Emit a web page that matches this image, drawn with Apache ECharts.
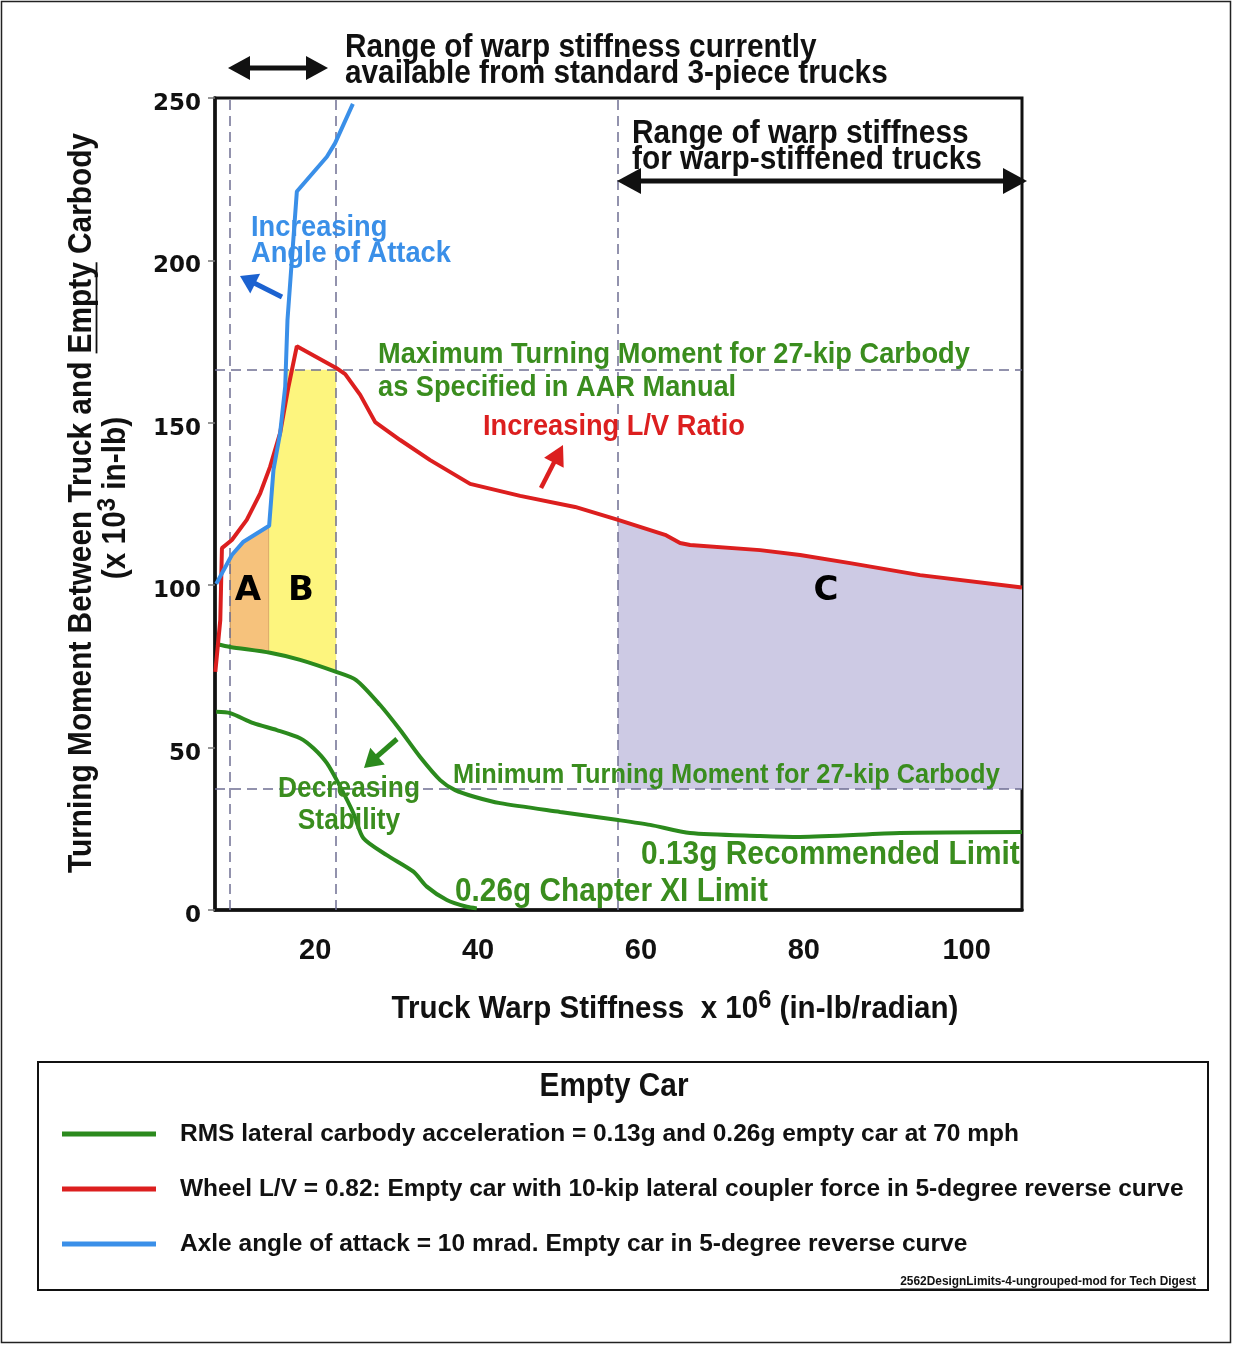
<!DOCTYPE html>
<html><head><meta charset="utf-8">
<script src="https://cdn.jsdelivr.net/npm/echarts@6/dist/echarts.min.js"></script>
<style>html,body{margin:0;padding:0;background:#fff}#c{width:1233px;height:1345px}</style>
</head><body><div id="c"></div>
<script>
// ---------------- data ----------------
const xTickLabels = [20, 40, 60, 80, 100];
const yTickLabels = [0, 50, 100, 150, 200, 250];

// Axle angle of attack = 10 mrad (blue)
const angleOfAttack = [[7.85,100.4],[9.77,109.3],[11.2,113.4],[14.35,118.3],[14.88,135.5],[15.7,146.9],[16.32,161.1],[16.6,181.6],[17.75,221.2],[21.44,231.9],[22.45,236.1],[24.63,248.2]];
// Wheel L/V = 0.82 (red)
const wheelLV = [[7.74,73.3],[8.35,89.3],[8.55,111.4],[9.77,113.9],[11.6,120.1],[13.25,128.3],[14.47,136.5],[15.7,146.9],[16.72,161.1],[17.75,173.6],[22.58,166.9],[23.69,165.0],[25.53,158.6],[27.37,150.2],[30.44,144.7],[34.12,138.5],[39.03,131.2],[45.17,127.5],[51.92,124.1],[57.2,120.1],[62.97,115.5],[64.81,113.0],[66.04,112.4],[74.64,110.8],[79.55,109.3],[85.69,106.8],[94.28,103.1],[106.8,99.3]];
// RMS lateral carbody acceleration 0.13g (green, upper)
const accel013 = [[7.85,81.9],[9.56,81.0],[14.47,79.2],[18.15,77.0],[22.58,73.3],[25.03,70.8],[27.98,63.1],[30.44,55.4],[32.89,47.1],[35.35,40.0],[37.19,36.9],[39.64,34.8],[42.71,32.9],[50.08,30.2],[57.2,27.7],[61.13,26.2],[66.04,23.7],[74.64,22.8],[79.55,22.5],[91.83,23.7],[106.8,24.0]];
// RMS lateral carbody acceleration 0.26g (green, lower)
const accel026 = [[7.85,61.0],[9.56,60.6],[12.42,57.5],[15.3,55.4],[18.15,52.9],[19.8,49.8],[21.44,45.2],[23.07,38.0],[24.7,29.8],[25.93,22.1],[28.8,16.9],[32.07,11.8],[33.71,7.2],[36.17,3.1],[38.62,1.0],[39.85,0.5]];

// reference (dashed) lines
const refX = [9.56, 22.58, 57.2];      // vertical dashed lines
const refY = [166.3, 37.25];           // max / min turning moment
// shaded zones (x ranges)
const zoneA = [9.56, 14.35];
const zoneB = [14.35, 22.58];
const zoneC = [57.2, 106.8];

const names = [
  'RMS lateral carbody acceleration = 0.13g and 0.26g empty car at 70 mph',
  'Wheel L/V = 0.82: Empty car with 10-kip lateral coupler force in 5-degree reverse curve',
  'Axle angle of attack = 10 mrad. Empty car in 5-degree reverse curve'
];

// ---------------- helpers ----------------
const SANS = "'Liberation Sans',Arial,Helvetica,sans-serif";
const HEAVY = "'DejaVu Sans',Arial,sans-serif";
const SX = 0.92; // slight horizontal condensation to mimic the original face
const mctx = document.createElement('canvas').getContext('2d');
function fitN(text, w){ mctx.font = 'bold 100px ' + SANS; return 100 * w / (mctx.measureText(text).width * SX); }
function fitU(text, w){ mctx.font = 'bold 100px ' + SANS; return 100 * w / mctx.measureText(text).width; }
function twN(text, size){ mctx.font = 'bold ' + size + 'px ' + SANS; return mctx.measureText(text).width * SX; }
function twU(text, size){ mctx.font = 'bold ' + size + 'px ' + SANS; return mctx.measureText(text).width; }

function interpAt(c, x){
  for (let i = 0; i < c.length - 1; i++) {
    const a = c[i], b = c[i+1];
    if (x >= a[0] && x <= b[0]) return a[1] + (b[1]-a[1]) * (x-a[0]) / (b[0]-a[0]);
  }
  return x < c[0][0] ? c[0][1] : c[c.length-1][1];
}
function clip(c, a, b){
  const out = [[a, interpAt(c, a)]];
  c.forEach(p => { if (p[0] > a && p[0] < b) out.push(p); });
  out.push([b, interpAt(c, b)]);
  return out;
}
function capAt(pts, cap){
  const out = [];
  for (let i = 0; i < pts.length; i++) {
    const p = pts[i];
    if (i > 0) {
      const q = pts[i-1];
      if ((q[1] - cap) * (p[1] - cap) < 0) {
        const t = (cap - q[1]) / (p[1] - q[1]);
        out.push([q[0] + t*(p[0]-q[0]), cap]);
      }
    }
    out.push([p[0], Math.min(p[1], cap)]);
  }
  return out;
}
const regionA = clip(angleOfAttack, zoneA[0], zoneA[1]).concat(clip(accel013, zoneA[0], zoneA[1]).reverse());
const regionB = capAt(clip(angleOfAttack, zoneB[0], zoneB[1]), refY[0]).concat(clip(accel013, zoneB[0], zoneB[1]).reverse());
const regionC = clip(wheelLV, zoneC[0], zoneC[1]).concat([[zoneC[1], refY[1]], [zoneC[0], refY[1]]]);
const regions = [regionA, regionB, regionC];
const regionFill = ['#f6c27c', '#fdf57e', '#cdcae4'];
const regionStroke = ['#b98a52', null, null];

// colours
const GREEN = '#2b8a1d', GREEN_T = '#3a8d1e', RED = '#dc1f1f', BLUE = '#3a8fe8', BLUE_A = '#1c62d0';

function txt(x, y, text, size, color, extra, noScale){
  const st = Object.assign({text: text, font: 'bold ' + size + 'px ' + SANS, fill: color,
    textAlign: 'left', textVerticalAlign: 'middle', align: 'left', verticalAlign: 'middle'}, extra || {});
  const el = {type: 'text', x: x, y: y, z: 100, silent: true, style: st};
  if (!noScale) el.scaleX = SX;
  return el;
}
function arrow(x1, y1, x2, y2, color, w, hl, hw, both){
  const dx = x2-x1, dy = y2-y1, L = Math.hypot(dx, dy), ux = dx/L, uy = dy/L, px = -uy, py = ux;
  const sx = both ? x1 + ux*hl*0.8 : x1, sy = both ? y1 + uy*hl*0.8 : y1;
  const ex = x2 - ux*hl*0.8, ey = y2 - uy*hl*0.8;
  const head = (tx, ty, vx, vy) => ({type: 'polygon', z: 100, silent: true,
    shape: {points: [[tx, ty], [tx - vx*hl + px*hw, ty - vy*hl + py*hw], [tx - vx*hl - px*hw, ty - vy*hl - py*hw]]},
    style: {fill: color}});
  const els = [{type: 'line', z: 100, silent: true, shape: {x1: sx, y1: sy, x2: ex, y2: ey}, style: {stroke: color, lineWidth: w}}];
  els.push(head(x2, y2, ux, uy));
  if (both) els.push(head(x1, y1, -ux, -uy));
  return els;
}

// ---------------- annotation sizes ----------------
const sTop = fitN('available from standard 3-piece trucks', 543);
const sRange = fitN('for warp-stiffened trucks', 350);
const sBlue = fitN('Angle of Attack', 200);
const sMax = fitN('Maximum Turning Moment for 27-kip Carbody', 592);
const sLV = fitN('Increasing L/V Ratio', 262);
const sMin = fitN('Minimum Turning Moment for 27-kip Carbody', 547);
const s013 = fitN('0.13g Recommended Limit', 379);
const s026 = fitN('0.26g Chapter XI Limit', 313);
const sDec = fitN('Decreasing', 142);
const sLeg = fitU(names[1], 1004);
const sEmpty = fitN('Empty Car', 149);
const yT1 = 'Turning Moment Between Truck and Empty Carbody';
const sYT = fitN(yT1, 740);
const sXT = fitN('Truck Warp Stiffness  x 10  (in-lb/radian)', 562);
const FOOT = '2562DesignLimits-4-ungrouped-mod for Tech Digest';
const sFoot = fitU(FOOT, 296);

// y-title underline for "Empty"
const yTW = twN(yT1, sYT);
const preW = twN('Turning Moment Between Truck and ', sYT);
const empW = twN('Empty', sYT);
const yTcx = 82, yTcy = 503;
const emY0 = yTcy + yTW/2 - preW, emY1 = emY0 - empW;
const footW = twU(FOOT, sFoot);

const graphics = [
  {type: 'rect', z: -10, silent: true, shape: {x: 1.5, y: 1.5, width: 1229, height: 1341}, style: {fill: 'none', stroke: '#222', lineWidth: 1.5}},
  // legend box
  {type: 'rect', z: -5, silent: true, shape: {x: 38, y: 1062, width: 1170, height: 228}, style: {fill: '#fff', stroke: '#111', lineWidth: 2}},
  txt(614, 1087, 'Empty Car', sEmpty, '#111', {textAlign: 'center', align: 'center'}),
  txt(1196, 1282, FOOT, sFoot, '#111', {textAlign: 'right', align: 'right'}, true),
  {type: 'line', z: 100, silent: true, shape: {x1: 1196 - footW, y1: 1289, x2: 1196, y2: 1289}, style: {stroke: '#111', lineWidth: 1}},
  // top annotation
  txt(345, 48, 'Range of warp stiffness currently', sTop, '#111'),
  txt(345, 74, 'available from standard 3-piece trucks', sTop, '#111'),
  ...arrow(228, 68, 328, 68, '#111', 5, 22, 12, true),
  txt(632, 134, 'Range of warp stiffness', sRange, '#111'),
  txt(632, 160, 'for warp-stiffened trucks', sRange, '#111'),
  ...arrow(617, 181, 1027, 181, '#111', 5, 24, 13, true),
  // blue annotation
  txt(251, 228, 'Increasing', sBlue, BLUE),
  txt(251, 254, 'Angle of Attack', sBlue, BLUE),
  ...arrow(282, 297, 240, 276, BLUE_A, 5, 17, 11, false),
  // green max
  txt(378, 355, 'Maximum Turning Moment for 27-kip Carbody', sMax, GREEN_T),
  txt(378, 388, 'as Specified in AAR Manual', sMax, GREEN_T),
  // red
  txt(483, 427, 'Increasing L/V Ratio', sLV, RED),
  ...arrow(541, 488, 563, 445, RED, 4.5, 20, 11, false),
  // zone letters
  txt(248, 591, 'A', 34, '#000', {textAlign: 'center', align: 'center', font: 'bold 34px ' + HEAVY}, true),
  txt(301, 591, 'B', 34, '#000', {textAlign: 'center', align: 'center', font: 'bold 34px ' + HEAVY}, true),
  txt(826, 591, 'C', 34, '#000', {textAlign: 'center', align: 'center', font: 'bold 34px ' + HEAVY}, true),
  // green stability
  ...arrow(397, 739, 364, 768, GREEN, 5, 18, 11, false),
  txt(349, 789, 'Decreasing', sDec, GREEN_T, {textAlign: 'center', align: 'center'}),
  txt(349, 821, 'Stability', sDec, GREEN_T, {textAlign: 'center', align: 'center'}),
  txt(453, 775, 'Minimum Turning Moment for 27-kip Carbody', sMin, GREEN_T),
  txt(641, 855, '0.13g Recommended Limit', s013, GREEN_T),
  txt(455, 892, '0.26g Chapter XI Limit', s026, GREEN_T),
  // axis titles
  {type: 'text', x: 675, y: 1009, scaleX: SX, z: 100, silent: true, style: {
    text: 'Truck Warp Stiffness  x 10{sup|6} (in-lb/radian)', font: 'bold ' + sXT + 'px ' + SANS, fill: '#111',
    textAlign: 'center', align: 'center', textVerticalAlign: 'middle', verticalAlign: 'middle',
    rich: {sup: {font: 'bold ' + (sXT*0.8) + 'px ' + SANS, fill: '#111', verticalAlign: 'top', padding: [0, 0, 16, 0]}}}},
  {type: 'text', x: yTcx, y: yTcy, rotation: Math.PI/2, scaleX: SX, z: 100, silent: true, style: {
    text: yT1, font: 'bold ' + sYT + 'px ' + SANS, fill: '#111',
    textAlign: 'center', align: 'center', textVerticalAlign: 'middle', verticalAlign: 'middle'}},
  {type: 'rect', z: 100, silent: true, shape: {x: yTcx + sYT*0.42, y: emY1, width: 1.8, height: emY0 - emY1}, style: {fill: '#111'}},
  {type: 'text', x: 116, y: 498, rotation: Math.PI/2, scaleX: SX, z: 100, silent: true, style: {
    text: '(x 10{sup|3} in-lb)', font: 'bold ' + sYT + 'px ' + SANS, fill: '#111',
    textAlign: 'center', align: 'center', textVerticalAlign: 'middle', verticalAlign: 'middle',
    rich: {sup: {font: 'bold ' + (sYT*0.8) + 'px ' + SANS, fill: '#111', verticalAlign: 'top', padding: [0, 0, 16, 0]}}}}
];

const chart = echarts.init(document.getElementById('c'), null, {renderer: 'canvas'});
chart.setOption({
  animation: false,
  backgroundColor: '#fff',
  grid: {left: 215, right: 211, top: 98, bottom: 435, show: true, borderColor: '#111', borderWidth: 3, backgroundColor: 'transparent'},
  xAxis: {
    type: 'value', min: 7.7, max: 106.8,
    axisLine: {show: true, lineStyle: {color: '#111', width: 3.5}},
    axisTick: {show: false},
    splitLine: {show: false},
    axisLabel: {customValues: xTickLabels, margin: 26, color: '#111', fontFamily: SANS, fontWeight: 'bold', fontSize: 29}
  },
  yAxis: {
    type: 'value', min: 0, max: 250, interval: 50,
    axisLine: {show: true, lineStyle: {color: '#111', width: 3.5}},
    axisTick: {show: true, length: 7, lineStyle: {color: '#777', width: 1.5}},
    splitLine: {show: false},
    axisLabel: {margin: 14, color: '#111', fontFamily: HEAVY, fontWeight: 'bold', fontSize: 23,
      formatter: v => yTickLabels.indexOf(v) >= 0 ? '{a|' + v + '}' : '',
      rich: {a: {fontFamily: HEAVY, fontWeight: 'bold', fontSize: 23, color: '#111', padding: [12, 0, 0, 0]}}}
  },
  legend: {
    orient: 'vertical', left: 62, top: 1122, padding: 0, itemWidth: 94, itemHeight: 5, itemGap: 31, icon: 'rect',
    selectedMode: false, data: names,
    textStyle: {fontFamily: SANS, fontWeight: 'bold', fontSize: sLeg, color: '#111', padding: [2, 0, 0, 19]}
  },
  graphic: graphics,
  series: [
    {type: 'custom', name: 'zones', z: 1, silent: true, clip: true,
      data: regions.map(r => [r[0][0], r[0][1]]),
      renderItem: function (params, api) {
        const i = params.dataIndex;
        return {type: 'polygon', shape: {points: regions[i].map(p => api.coord(p))},
          style: {fill: regionFill[i], stroke: regionStroke[i] || 'none', lineWidth: 1}};
      }},
    {type: 'line', name: 'refs', z: 2, data: [], silent: true,
      markLine: {silent: true, symbol: 'none', label: {show: false},
        lineStyle: {color: '#6f6f92', width: 1.5, type: [10, 6]},
        data: refX.map(v => ({xAxis: v})).concat(refY.map(v => ({yAxis: v})))}},
    {type: 'line', name: names[0], data: accel013, z: 5, showSymbol: false, smooth: 0.25, color: GREEN, lineStyle: {color: GREEN, width: 4}},
    {type: 'line', name: names[0], data: accel026, z: 5, showSymbol: false, smooth: 0.25, color: GREEN, lineStyle: {color: GREEN, width: 4}},
    {type: 'line', name: names[1], data: wheelLV, z: 5, showSymbol: false, color: RED, lineStyle: {color: RED, width: 4}},
    {type: 'line', name: names[2], data: angleOfAttack, z: 5, showSymbol: false, color: BLUE, lineStyle: {color: BLUE, width: 4}}
  ]
});
</script></body></html>
